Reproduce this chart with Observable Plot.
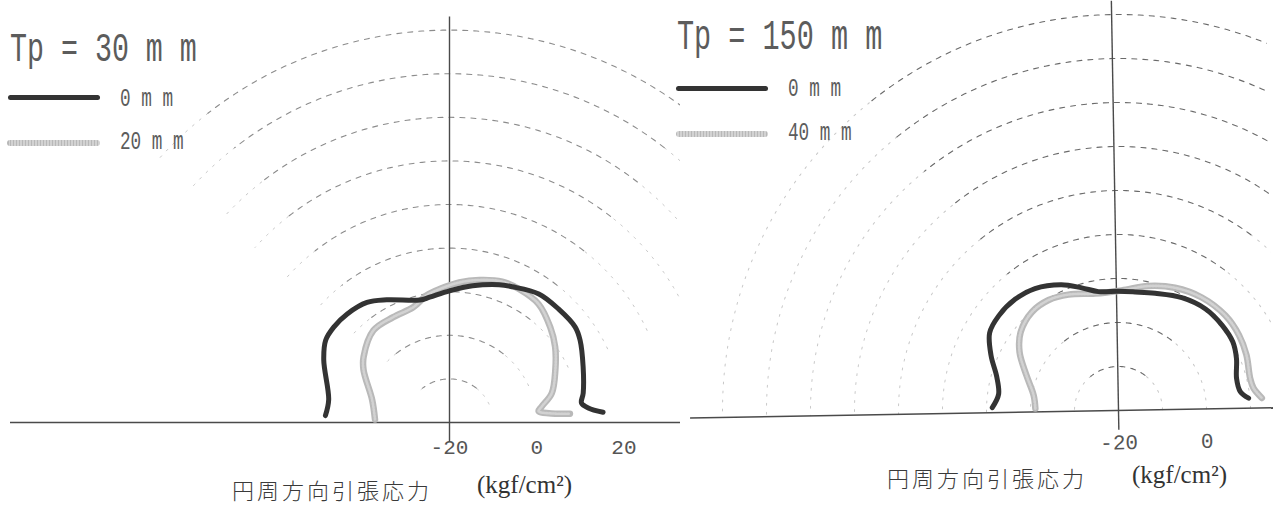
<!DOCTYPE html>
<html><head><meta charset="utf-8">
<script src="https://cdn.jsdelivr.net/npm/d3@7"></script>
<script src="https://cdn.jsdelivr.net/npm/@observablehq/plot@0.6"></script>
<style>
body{margin:0;background:#fff;}
#wrap{position:relative;width:1273px;height:512px;display:flex;overflow:hidden;background:#fff;}
#wrap svg{overflow:hidden;}
.mono{position:absolute;font-family:"Liberation Mono",monospace;color:#5c5c5c;white-space:pre;transform-origin:0 0;line-height:1;}
.jp{position:absolute;font-family:"Noto Sans CJK JP",sans-serif;font-weight:300;color:#3a3a3a;white-space:pre;line-height:1;font-size:22px;letter-spacing:3px;}
.unit{position:absolute;font-family:"Liberation Serif",serif;color:#333;white-space:pre;line-height:1;font-size:25px;}
.sw{position:absolute;border-radius:3px;}
</style></head><body>
<div id="wrap"><div id="left"></div><div id="right"></div></div>
<script>
// ---------------- data ----------------
const centerStress = -20;                     // stress at polar origin (kgf/cm2)
const ringStress = [-10, 0, 10, 20, 30, 40, 50, 60, 70];
const leftTicks = [-20, 0, 20];
const rightTicks = [-20, 0];

// Tp = 30 mm, 0 mm curve (angle deg, stress kgf/cm2)
const left0Angle  = [176.8,169.3,153.6,146.4,140.5,133.3,124.5,117.1,103.6,99.0,90.0,80.4,70.2,65.2,55.2,46.2,37.2,32.2,22.6,12.4,8.4,6.0,3.8];
const left0Stress = [8.5,8.2,12.2,14.1,14.4,14.2,13.4,11.6,8.9,9.1,10.2,11.8,13.6,14.3,15.9,16.1,16.2,15.4,13.2,11.4,10.6,12.0,15.3];
// Tp = 30 mm, 20 mm curve
const left20Angle  = [177.7,163.6,148.6,142.6,129.5,118.1,107.5,100.3,94.2,86.0,78.2,69.5,62.5,53.1,43.4,35.6,26.4,16.0,9.9,7.2,4.8,4.2];
const left20Stress = [-2.9,-1.5,3.1,4.8,7.4,7.4,7.7,9.6,10.7,12.2,13.4,14.5,14.5,14.0,11.8,9.8,7.1,4.4,1.5,0.6,4.3,7.7];
// Tp = 150 mm, 0 mm curve
const right0Angle  = [177.7,171.3,163.2,155.8,147.9,140.7,131.8,123.4,113.4,105.7,98.6,89.0,81.0,71.6,59.7,48.4,38.4,30.0,22.8,14.2,7.8,4.4];
const right0Stress = [8.7,7.5,8.8,11.5,14.2,14.7,14.5,13.6,11.4,9.1,7.4,7.1,7.2,7.9,9.4,10.4,10.5,10.3,9.3,7.8,8.0,9.7];
// Tp = 150 mm, 40 mm curve
const right40Angle  = [177.7,168.8,158.1,148.5,140.3,130.3,121.3,112.4,100.3,87.5,75.5,64.3,52.6,40.6,31.0,22.5,12.8,8.4,4.0];
const right40Stress = [-1.1,-0.4,2.4,6.1,8.5,9.8,9.7,8.7,7.1,7.3,9.1,10.7,11.9,12.5,12.3,11.7,10.8,11.1,12.7];

// ---------------- helpers ----------------
const rad = a => a * Math.PI / 180;
const px = (s, a) => (s - centerStress) * Math.cos(rad(a)) + centerStress;
const py = (s, a) => (s - centerStress) * Math.sin(rad(a));
const curve = (A, S) => A.map((a, i) => ({a, s: S[i]}));
function ringData(ranges) {
  const out = [];
  for (const s of ringStress) for (const [k, a0, a1] of ranges)
    for (const a of d3.range(a0, a1 + 0.001, 1)) out.push({key: s + k, s, a});
  return out;
}
const band = [52, 128];

function panel({width, height, cx, cy, k, ticks, tickPadding, darkRing, faintRanges, c0, c1}) {
  const ringTop = d3.max(ringStress) - centerStress;
  return Plot.plot({
    width, height,
    marginTop: 0, marginLeft: 0, marginRight: 0, marginBottom: height - cy,
    x: {domain: [centerStress - cx / k, centerStress + (width - cx) / k], ticks, tickSize: 0, tickPadding,
        tickFormat: d => String(d), label: null},
    y: {domain: [0, cy / k], axis: null},
    style: {fontFamily: "Liberation Mono, monospace", fontSize: "21px", color: "#555", background: "transparent", overflow: "hidden"},
    marks: [
      Plot.line(ringData(faintRanges), {x: d => px(d.s, d.a), y: d => py(d.s, d.a), z: "key",
        stroke: "#c8c8c8", strokeWidth: 1, strokeDasharray: "2,7"}),
      Plot.line(ringData([["m", band[0], band[1]]]), {x: d => px(d.s, d.a), y: d => py(d.s, d.a), z: "key",
        stroke: darkRing, strokeWidth: 1.1, strokeDasharray: "5,6"}),
      Plot.ruleY([0], {stroke: "#4a4a4a", strokeWidth: 1.4, insetLeft: 10}),
      Plot.ruleX([centerStress], {y1: -4.5, y2: ringTop + 3, stroke: "#4a4a4a", strokeWidth: 1.4}),
      Plot.line(c1, {x: d => px(d.s, d.a), y: d => py(d.s, d.a), curve: "catmull-rom",
        stroke: "#b9b9b9", strokeWidth: 6.5, strokeLinecap: "round", strokeLinejoin: "round"}),
      Plot.line(c1, {x: d => px(d.s, d.a), y: d => py(d.s, d.a), curve: "catmull-rom",
        stroke: "#d2d2d2", strokeWidth: 2.6, strokeDasharray: "1.5,1.5"}),
      Plot.line(c0, {x: d => px(d.s, d.a), y: d => py(d.s, d.a), curve: "catmull-rom",
        stroke: "#333", strokeWidth: 5, strokeLinecap: "round", strokeLinejoin: "round"})
    ]
  });
}

const H = 512;
const leftSvg = panel({width: 680, height: H, cx: 449, cy: 422, k: 4.36, ticks: leftTicks, tickPadding: 17,
  darkRing: "#8c8c8c", faintRanges: [["a", 25, band[0]], ["b", band[1], 138]],
  c0: curve(left0Angle, left0Stress), c1: curve(left20Angle, left20Stress)});
const rightSvg = panel({width: 593, height: H, cx: 438, cy: 410, k: 4.4, ticks: rightTicks, tickPadding: 24,
  darkRing: "#6a6a6a", faintRanges: [["a", 0, band[0]], ["b", band[1], 180]],
  c0: curve(right0Angle, right0Stress), c1: curve(right40Angle, right40Stress)});
rightSvg.style.transform = "rotate(-1deg)";
rightSvg.style.transformOrigin = "438px 410px";
document.getElementById("left").appendChild(leftSvg);
document.getElementById("right").appendChild(rightSvg);

// ---------------- titles, legends, axis titles ----------------
const wrap = document.getElementById("wrap");
function mono(text, left, top, fs, s) {
  const e = document.createElement("div");
  e.className = "mono"; e.textContent = text;
  e.style.left = left + "px"; e.style.top = top + "px"; e.style.fontSize = fs + "px";
  e.style.transform = `scaleY(${s})`;
  wrap.appendChild(e);
}
function swatch(left, top, w, h, bg) {
  const e = document.createElement("div");
  e.className = "sw"; e.style.left = left + "px"; e.style.top = top + "px";
  e.style.width = w + "px"; e.style.height = h + "px"; e.style.background = bg;
  wrap.appendChild(e);
}
function cls(c, text, left, top) {
  const e = document.createElement("div");
  e.className = c; e.textContent = text; e.style.left = left + "px"; e.style.top = top + "px";
  wrap.appendChild(e);
}
const lightBg = "repeating-linear-gradient(90deg,#b8b8b8 0 1.5px,#d2d2d2 1.5px 3px)";
mono("Tp = 30 m m", 10, 28.5, 28.3, 1.45);
swatch(8, 95, 92, 5, "#333");
mono("0 m m", 120, 86.7, 17.7, 1.46);
swatch(7, 139.5, 93, 6, lightBg);
mono("20 m m", 120, 129.7, 17.7, 1.46);

mono("Tp = 150 m m", 677, 17, 28.5, 1.5);
swatch(676, 86, 92, 5, "#333");
mono("0 m m", 788, 76.7, 17.7, 1.46);
swatch(676, 130.5, 92, 6, lightBg);
mono("40 m m", 788, 120.7, 17.7, 1.46);

cls("jp", "円周方向引張応力", 232, 478);
cls("unit", "(kgf/cm²)", 477, 472);
cls("jp", "円周方向引張応力", 887, 466);
cls("unit", "(kgf/cm²)", 1132, 462);
</script>
</body></html>
